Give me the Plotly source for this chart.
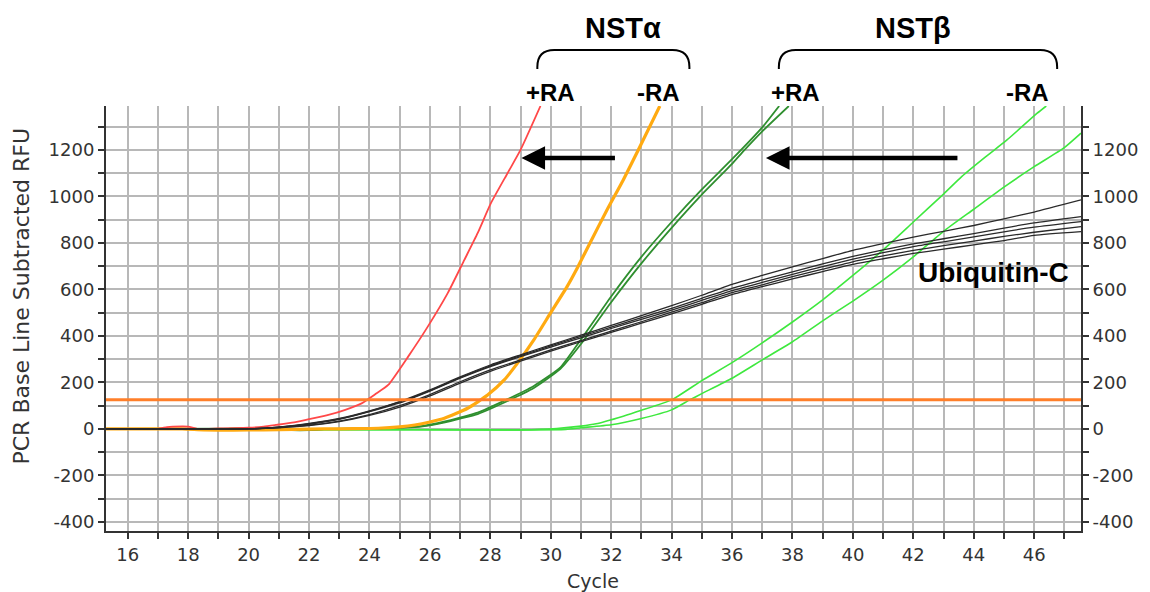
import plotly.graph_objects as go

# ---------------- data ----------------
THRESHOLD = 125

red_x = [15.28, 17.0, 17.3, 17.5, 18.0, 18.3, 19.0, 20.0, 20.5, 20.9, 21.5, 22.0, 22.64, 23.2, 23.74, 24.2, 24.62,
         25.28, 25.93, 26.59, 27.14, 27.58, 28.02, 28.57, 29.0, 29.66]
red_y = [0, 0, 8, 10, 10, 0, 2, 5, 10, 17, 28, 42, 60, 82, 110, 150, 189,
         311, 440, 584, 727, 842, 971, 1100, 1200, 1389]

orange_x = [15.28, 17.8, 18.5, 19.5, 20.5, 21.5, 22.5, 23.5, 24.29, 25.0, 25.5, 26.0, 26.48, 27.25, 27.91, 28.46,
            28.9, 29.44, 29.99, 30.54, 30.87, 31.3, 31.86, 32.4, 32.95, 33.61]
orange_y = [0, 0, -4, -5, -4, -2, 0, 1, 3, 9, 17, 30, 46, 89, 146, 211,
            283, 383, 498, 612, 690, 800, 942, 1071, 1214, 1389]

dgreenA_x = [15.28, 20.8, 21.4, 22.0, 22.6, 23.5, 24.3, 25.0, 25.71, 26.5, 27.03, 27.58, 28.57, 29.44, 30.32,
             31.0, 32.0, 33.0, 34.0, 35.0, 36.0, 37.0, 37.56]
dgreenA_y = [0, 0, -5, -5, 0, 1, 3, 6, 12, 32, 50, 70, 128, 185, 265,
             385, 570, 740, 890, 1030, 1160, 1297, 1389]
dgreenB_x = [15.28, 20.8, 21.4, 22.0, 22.6, 23.5, 24.3, 25.0, 25.71, 26.5, 27.03, 27.58, 28.57, 29.44, 30.32,
             31.0, 32.0, 33.0, 34.0, 35.0, 36.0, 36.4, 37.0, 37.88]
dgreenB_y = [0, 0, -4, -4, 0, 1, 2, 5, 10, 28, 45, 64, 120, 176, 258,
             365, 545, 712, 865, 1008, 1140, 1198, 1280, 1389]

lgreenC_x = [15.28, 19.3, 19.6, 20.0, 20.3, 21.0, 24.0, 27.0, 29.0, 30.2, 31.0, 31.5, 32.4, 33.0, 34.0, 35.0,
             36.0, 37.0, 38.0, 39.0, 40.0, 41.0, 42.0, 43.0, 43.6, 44.4, 45.1, 46.1, 46.4]
lgreenC_y = [0, 0, 4, 4, 0, -3, -3, -4, -4, 2, 12, 22, 55, 80, 125, 208,
             285, 370, 460, 555, 660, 770, 890, 1010, 1085, 1171, 1243, 1358, 1389]
lgreenD_x = [15.28, 21.0, 25.0, 29.0, 30.5, 31.0, 32.0, 33.0, 34.0, 34.6, 35.0, 36.0, 37.0, 38.0, 39.0, 40.0,
             41.0, 42.0, 43.0, 44.0, 45.0, 46.0, 47.0, 47.55]
lgreenD_y = [0, -3, -3, -4, -2, 5, 18, 45, 82, 125, 152, 218, 297, 375, 465, 550,
             640, 740, 850, 945, 1040, 1128, 1210, 1272]

ubc_x = [15.28, 20.0, 21.0, 22.0, 23.0, 24.0, 25.0, 26.0, 27.0, 28.0, 29.0, 30.0, 31.0, 32.0, 33.0, 34.0, 35.0,
         36.0, 37.0, 38.0, 39.0, 40.0, 41.0, 42.0, 43.0, 44.0, 45.0, 46.0, 47.55]
ubc_1 = [0, 0, 8, 24, 45, 78, 118, 168, 224, 275, 319, 362, 403, 445, 487, 530, 575,
         622, 660, 697, 733, 768, 797, 825, 850, 875, 904, 933, 985]
ubc_2 = [0, 0, 8, 22, 43, 76, 116, 165, 221, 271, 315, 357, 398, 438, 479, 519, 562,
         605, 641, 676, 710, 742, 770, 796, 818, 840, 864, 886, 913]
ubc_3 = [0, 0, 8, 20, 41, 74, 112, 163, 218, 268, 311, 352, 392, 432, 471, 511, 553,
         595, 630, 665, 698, 730, 758, 784, 805, 826, 848, 868, 892]
ubc_4 = [0, 0, 6, 16, 34, 62, 100, 148, 203, 254, 297, 340, 380, 421, 461, 502, 543,
         586, 620, 655, 687, 719, 744, 768, 788, 808, 828, 846, 870]
ubc_5 = [0, 0, 5, 14, 31, 58, 94, 142, 197, 248, 292, 335, 375, 415, 455, 495, 536,
         578, 612, 645, 677, 708, 732, 755, 773, 792, 810, 833, 849]

X_RANGE = [15.28, 47.55]
Y_RANGE = [-439, 1389]
y_tick_vals = [-400, -200, 0, 200, 400, 600, 800, 1000, 1200]
y_tick_text = ["-400", "-200", "0", "200", "400", "600", "800", "1000", "1200"]

# ---------------- figure ----------------
OFF = 8                      # page body margin of the html page
W, H = 1150 - OFF, 592 - OFF
PW, PH = 981, 425
L, T = 106 - OFF, 106 - OFF
R, B = W - L - PW, H - T - PH


def px(xs):
    """screen x -> paper x"""
    return (xs - OFF - L) / PW


def py(ys):
    """screen y -> paper y"""
    return (T + PH - (ys - OFF)) / PH


fig = go.Figure()

colored = [
    (lgreenC_x, lgreenC_y, "#3ee83e", 1.6),
    (lgreenD_x, lgreenD_y, "#3ee83e", 1.6),
    (dgreenA_x, dgreenA_y, "#2f8f2f", 1.8),
    (dgreenB_x, dgreenB_y, "#2f8f2f", 1.8),
    (orange_x, orange_y, "#ffaa11", 3.2),
    (red_x, red_y, "#ff4848", 1.8),
]
for xs, ys, col, w in colored:
    fig.add_trace(go.Scatter(x=xs, y=ys, mode="lines", line=dict(color=col, width=w, shape="spline", smoothing=0.5),
                             hoverinfo="skip", showlegend=False))

for ys in [ubc_1, ubc_2, ubc_3, ubc_4, ubc_5]:
    fig.add_trace(go.Scatter(x=ubc_x, y=ys, mode="lines",
                             line=dict(color="#2a2a2a", width=1.3, shape="spline", smoothing=0.5),
                             hoverinfo="skip", showlegend=False))

# threshold line
fig.add_trace(go.Scatter(x=X_RANGE, y=[THRESHOLD, THRESHOLD], mode="lines", line=dict(color="#ff7f2a", width=3),
                         hoverinfo="skip", showlegend=False))

# empty trace so that the right-hand axis is drawn
fig.add_trace(go.Scatter(x=[], y=[], yaxis="y2", showlegend=False, hoverinfo="skip"))

tickfont = dict(family="DejaVu Sans", size=18, color="#333333")
grid_col = "#b8b8b8"
axcol = "#333333"
minor_y = dict(tick0=0, dtick=100, showgrid=True, gridcolor=grid_col, gridwidth=2, ticks="outside",
               ticklen=6, tickwidth=2, tickcolor=axcol)

fig.update_layout(
    width=W, height=H,
    margin=dict(l=L, r=R, t=T, b=B, pad=0),
    paper_bgcolor="white", plot_bgcolor="white",
    showlegend=False,
    xaxis=dict(range=X_RANGE, tick0=0, dtick=2, showgrid=True, gridcolor=grid_col, gridwidth=2,
               ticks="outside", ticklen=6, tickwidth=2, tickcolor=axcol, tickfont=tickfont,
               showline=True, linecolor=axcol, linewidth=2, zeroline=False,
               minor=dict(tick0=0, dtick=1, showgrid=True, gridcolor=grid_col, gridwidth=2, ticks="outside",
                          ticklen=6, tickwidth=2, tickcolor=axcol)),
    yaxis=dict(range=Y_RANGE, tickmode="array", tickvals=y_tick_vals, ticktext=y_tick_text,
               showgrid=True, gridcolor=grid_col, gridwidth=2,
               ticks="outside", ticklen=6, tickwidth=2, tickcolor=axcol, tickfont=tickfont,
               showline=True, linecolor=axcol, linewidth=2, zeroline=False, minor=minor_y),
    yaxis2=dict(range=Y_RANGE, tickmode="array", tickvals=y_tick_vals, ticktext=y_tick_text,
                overlaying="y", side="right", showgrid=False,
                ticks="outside", ticklen=6, tickwidth=2, tickcolor=axcol, tickfont=tickfont,
                showline=True, linecolor=axcol, linewidth=2, zeroline=False,
                minor=dict(tick0=0, dtick=100, ticks="outside", ticklen=6, tickwidth=2, tickcolor=axcol)),
)

bold = "Liberation Sans"
ann = []
ann.append(dict(text="PCR Base Line Subtracted RFU", x=px(20), y=py(296), xref="paper", yref="paper",
                textangle=-90, showarrow=False, font=dict(family="DejaVu Sans", size=22, color="#333333"),
                xanchor="center", yanchor="middle"))
ann.append(dict(text="Cycle", x=px(596), y=py(581), xref="paper", yref="paper", showarrow=False,
                font=dict(family="DejaVu Sans", size=19, color="#333333"), xanchor="center", yanchor="middle"))
for txt, xp, yp, sz in [("<b>NSTα</b>", 626, 28, 29), ("<b>NSTβ</b>", 918, 28, 29),
                        ("<b>+RA</b>", 553, 92, 24), ("<b>-RA</b>", 662, 92, 24),
                        ("<b>+RA</b>", 800, 92, 24), ("<b>-RA</b>", 1033, 92, 24),
                        ("<b>Ubiquitin-C</b>", 999, 272, 28)]:
    ann.append(dict(text=txt, x=px(xp), y=py(yp), xref="paper", yref="paper", showarrow=False,
                    font=dict(family=bold, size=sz, color="black"), xanchor="center", yanchor="middle"))
# arrows
for head, tail, yp in [(524, 619, 158), (770, 963, 158)]:
    ann.append(dict(text="", x=px(head), y=py(yp), xref="paper", yref="paper", ax=tail - head, ay=0,
                    showarrow=True, arrowhead=2, arrowsize=1.05, arrowwidth=4.5, arrowcolor="black", standoff=0))
fig.update_layout(annotations=ann)

# braces
shapes = []
for x0, x1 in [(540, 693), (783, 1063)]:
    ytop, ybot, r = 50, 69, 17
    path = (f"M {px(x0)},{py(ybot)} L {px(x0)},{py(ytop + r)} Q {px(x0)},{py(ytop)} {px(x0 + r)},{py(ytop)} "
            f"L {px(x1 - r)},{py(ytop)} Q {px(x1)},{py(ytop)} {px(x1)},{py(ytop + r)} L {px(x1)},{py(ybot)}")
    shapes.append(dict(type="path", path=path, xref="paper", yref="paper", line=dict(color="black", width=2)))
fig.update_layout(shapes=shapes)

fig.write_html("out.html")
